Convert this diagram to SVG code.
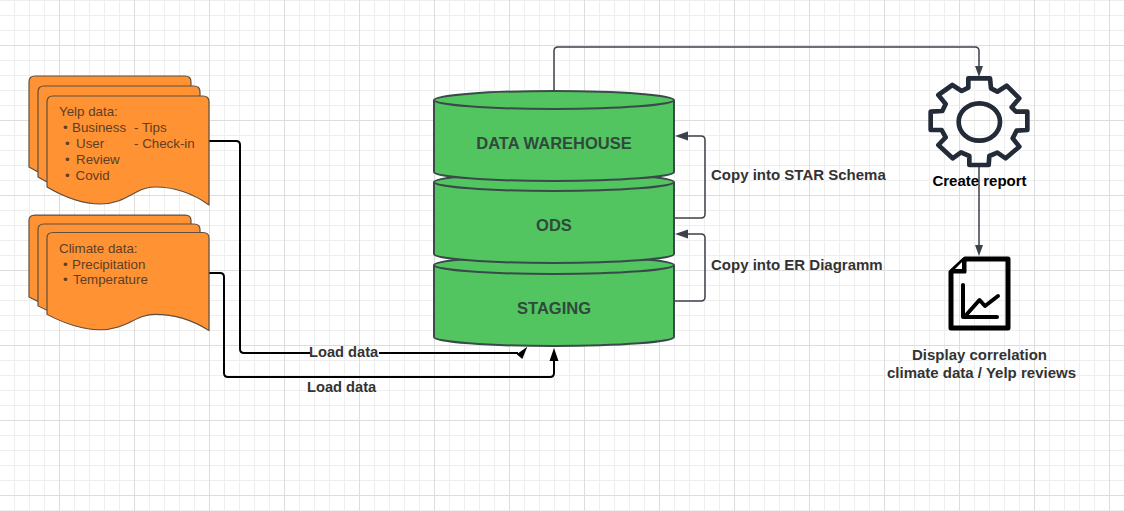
<svg xmlns="http://www.w3.org/2000/svg" width="1124" height="511" viewBox="0 0 1124 511">
<style>
text{font-family:"Liberation Sans",Arial,sans-serif}
.doc{fill:#ff9233;stroke:#5f4f42;stroke-width:1.2;stroke-linejoin:round}
.dt{font-size:13.33px;fill:#5c4026}
.cyl{fill:#53c560;stroke:#3a4a4a;stroke-width:2}
.ct{font-size:16.5px;font-weight:bold;fill:#2f4a3c;text-anchor:middle}
.lab{font-size:15px;font-weight:bold;fill:#333}
.ld{font-size:14.67px}
.thin{fill:none;stroke:#3a414a;stroke-width:1.5;stroke-linejoin:round}
.blk{fill:none;stroke:#000;stroke-width:2}
.ico{fill:none;stroke:#000;stroke-width:5;stroke-linejoin:round;stroke-linecap:round}
</style>
<defs>
<pattern id="minor" width="15" height="15" patternUnits="userSpaceOnUse" x="14" y="15"><path d="M.5 0V15M0 .5H15" stroke="#eeeeee" stroke-width="1" fill="none"/></pattern>
<pattern id="major" width="75" height="75" patternUnits="userSpaceOnUse" x="59" y="45"><path d="M.5 0V75M0 .5H75" stroke="#dddddd" stroke-width="1" fill="none"/></pattern>
<path id="wave3" d="M0 91C12 98 31 108 53 108C80 108 88 91 108 91C131 91 148 99 162 109V6Q162 0 156 0H6Q0 0 0 6Z"/>
</defs>
<rect width="1124" height="511" fill="#fff"/>
<rect width="1124" height="511" fill="url(#minor)"/>
<rect width="1124" height="511" fill="url(#major)"/>

<g id="connectors">
<path class="thin" d="M554 92V51Q554 47 558 47H975Q979 47 979 51V68"/>
<path d="M979 77L975 66H983Z" fill="#3a414a"/>
<path class="thin" d="M979 165V247"/>
<path d="M979 256L975 245H983Z" fill="#3a414a"/>
<path class="thin" d="M675 218H701Q705 218 705 214V140Q705 136 701 136H686"/>
<path d="M675 136L688 131.500V140.500Z" fill="#3a414a"/>
<path class="thin" d="M675 301H701Q705 301 705 297V238Q705 234 701 234H686"/>
<path d="M675 234L688 229.500V238.500Z" fill="#3a414a"/>
<path class="blk" d="M209 141H236Q240 141 240 145V349Q240 353 244 353H310M379 353H518"/>
<path d="M527.3 346.7L516.7 354.3L522.3 359Z" fill="#000"/>
<path class="blk" d="M209 273H220Q224 273 224 277V373Q224 377 228 377H550Q554 377 554 373V358"/>
<path d="M554 348L549.500 361H558.500Z" fill="#000"/>
</g>

<g id="yelp-data">
<use href="#wave3" x="29" y="76" class="doc"/>
<use href="#wave3" x="38" y="86" class="doc"/>
<use href="#wave3" x="47" y="96" class="doc"/>
<text class="dt" x="59" y="116">Yelp data:</text>
<text class="dt" x="63" y="132">•</text><text class="dt" x="72" y="132">Business</text><text class="dt" x="134" y="132">- Tips</text>
<text class="dt" x="65" y="148">•</text><text class="dt" x="76" y="148">User</text><text class="dt" x="134" y="148">- Check-in</text>
<text class="dt" x="65" y="164">•</text><text class="dt" x="76" y="164">Review</text>
<text class="dt" x="65" y="180">•</text><text class="dt" x="75.500" y="180">Covid</text>
</g>

<g id="climate-data">
<use href="#wave3" x="29" y="215" transform="translate(0 21.600) scale(1 .9)" class="doc"/>
<use href="#wave3" x="38" y="224" transform="translate(0 22.400) scale(1 .9)" class="doc"/>
<use href="#wave3" x="47" y="232.500" transform="translate(0 23.250) scale(1 .9)" class="doc"/>
<text class="dt" x="59" y="253">Climate data:</text>
<text class="dt" x="63" y="269">•</text><text class="dt" x="72" y="269">Precipitation</text>
<text class="dt" x="63" y="284">•</text><text class="dt" x="73" y="284">Temperature</text>
</g>

<g id="staging">
<path class="cyl" d="M434 265A120 9 0 0 1 674 265V337A120 9 0 0 1 434 337Z"/>
<path class="cyl" d="M434 265A120 9 0 0 0 674 265"/>
<text class="ct" x="554" y="313.500">STAGING</text>
</g>
<g id="ods">
<path class="cyl" d="M434 182A120 9 0 0 1 674 182V254A120 9 0 0 1 434 254Z"/>
<path class="cyl" d="M434 182A120 9 0 0 0 674 182"/>
<text class="ct" x="554" y="230.500">ODS</text>
</g>
<g id="data-warehouse">
<path class="cyl" d="M434 100A120 9 0 0 1 674 100V172A120 9 0 0 1 434 172Z"/>
<path class="cyl" d="M434 100A120 9 0 0 0 674 100"/>
<text class="ct" x="554" y="148.500">DATA WAREHOUSE</text>
</g>

<text class="lab" x="711" y="180">Copy into STAR Schema</text>
<text class="lab" x="711" y="270">Copy into ER Diagramm</text>
<text class="lab ld" x="309" y="357">Load data</text>
<text class="lab ld" x="307" y="392">Load data</text>

<g id="create-report">
<g transform="translate(910 30) scale(.33333)" fill="none" stroke="#232b38" stroke-width="14" stroke-linejoin="round">
<path d="M175 145H240L243 175L262 185L290 167L328 205L305 232L318 245H352V300L320 302L308 325L328 350L287 385L262 368L238 378L236 405H178V378L153 367L128 385L85 345L107 322L95 300H62V245L97 243L107 222L85 195L127 165L155 183L175 173Z"/>
<ellipse cx="208" cy="276" rx="62" ry="56"/>
</g>
<text x="979.500" y="186" font-size="15" font-weight="bold" fill="#000" text-anchor="middle">Create report</text>
</g>

<g id="display-correlation">
<path class="ico" d="M965 259H1008V328H951V272Z"/>
<path d="M965 259L951 272H965Z" fill="#000" stroke="#000" stroke-width="3" stroke-linejoin="round"/>
<path d="M962 262L955 269H962Z" fill="#fff"/>
<path d="M963 285V317H997" fill="none" stroke="#000" stroke-width="4" stroke-linecap="round" stroke-linejoin="round"/>
<path d="M967 314L979.500 300L985 306L998 296" fill="none" stroke="#000" stroke-width="4" stroke-linecap="round" stroke-linejoin="round"/>
<text class="lab" x="979.500" y="360" text-anchor="middle">Display correlation</text>
<text class="lab" x="981.500" y="378" text-anchor="middle">climate data / Yelp reviews</text>
</g>
</svg>
